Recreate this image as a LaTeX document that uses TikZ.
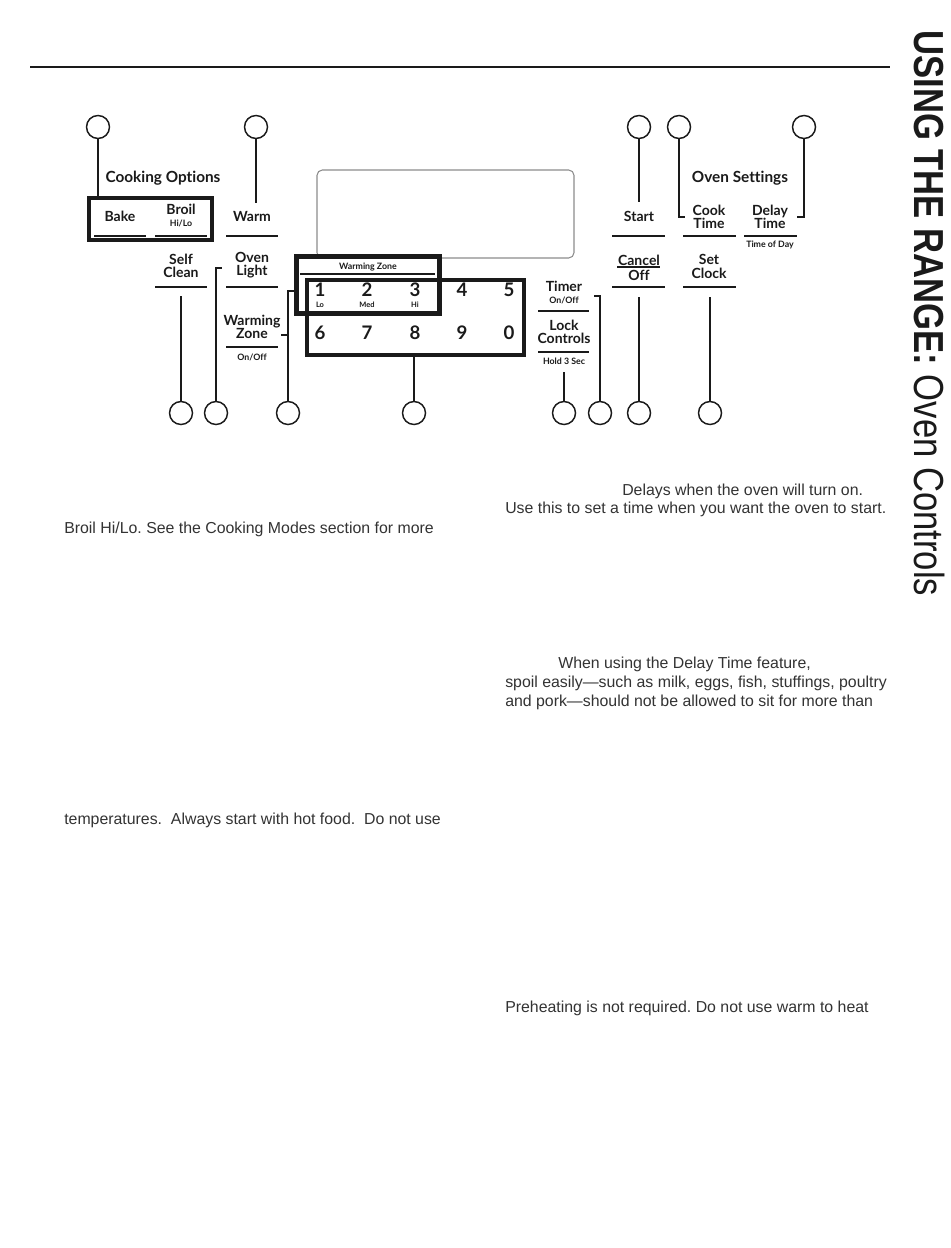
\documentclass[tikz,border=0pt]{standalone}
\usepackage{fontspec}
\setmainfont{Liberation Sans}
\newfontfamily\panelfont[Ligatures=NoCommon]{Lato}
\usepackage{graphicx}
\definecolor{ink}{HTML}{1A1A1A}
\definecolor{bodygray}{HTML}{333333}
\definecolor{dispgray}{HTML}{8C8C8C}
\begin{document}
\frenchspacing
\begin{tikzpicture}[x=0.75pt,y=-0.75pt,
  ring/.style={circle,draw=ink,line width=1.1pt,minimum size=17.25pt,inner sep=0pt},
  lead/.style={draw=ink,line width=1.5pt},
  uline/.style={draw=ink,line width=1pt},
  frame/.style={draw=ink,line width=2.3pt,inner sep=0pt},
  btn/.style={font=\panelfont\bfseries\fontsize{10.5}{9.9}\selectfont,align=center,text=ink,inner sep=0pt},
  hdr/.style={font=\panelfont\bfseries\fontsize{11.5}{12}\selectfont,text=ink,inner sep=0pt},
  tiny/.style={font=\panelfont\bfseries\fontsize{6.6}{7}\selectfont,text=ink,inner sep=0pt},
  num/.style={font=\panelfont\bfseries\fontsize{14}{14}\selectfont,text=ink,inner sep=0pt},
  numsub/.style={font=\panelfont\bfseries\fontsize{5.6}{6}\selectfont,text=ink,inner sep=0pt},
  body/.style={font=\fontsize{11.9}{14}\selectfont,text=bodygray,anchor=base west,inner sep=0pt}]
\useasboundingbox (0,0) rectangle (950,1248);
\fill[white] (0,0) rectangle (950,1248);

% top rule
\draw[ink,line width=2.2pt] (30,67) -- (890,67);

% vertical title
\node[rotate=-90,anchor=west,inner sep=0pt,text=ink] (title) at (929,30)
  {\scalebox{0.825}[1]{\fontsize{31.5}{32}\selectfont\textbf{USING THE RANGE:} Oven Controls}};

% display window
\node[draw=dispgray,line width=0.8pt,rounded corners=4pt,minimum width=192.75pt,minimum height=66pt,inner sep=0pt] (disp) at (445.5,214) {};

% left group
\node[hdr] (cookopt) at (163,178) {Cooking Options};
\node[frame,minimum width=92.25pt,minimum height=31.5pt,fill=white] (bbox) at (150.5,219) {};
\node[btn] (bake) at (120,216) {Bake};
\node[btn] (broil) at (181,209) {Broil};
\node[tiny] (hilo) at (181,223) {Hi/Lo};
\draw[uline] (94,236) -- (146,236);
\draw[uline] (155,236) -- (207,236);

\node[btn] (warm) at (252,216) {Warm};
\draw[uline] (226,236) -- (278,236);

\node[btn] (selfclean) at (181,265.5) {Self\\Clean};
\draw[uline] (155,287) -- (207,287);
\node[btn] (ovenlight) at (252,265.5) {Oven\\Light};
\draw[uline] (226,287) -- (278,287);
\node[btn] (wzone) at (252,326.5) {Warming\\Zone};
\draw[uline] (226,347) -- (278,347);
\node[tiny] (wzonoff) at (252,357) {On/Off};

% warming zone box & keypad
\node[frame,minimum width=106.5pt,minimum height=42pt,fill=white] (wzbox) at (368,285) {};
\node[tiny] (wzlabel) at (368,267) {Warming Zone};
\draw[uline] (300,274) -- (435,274);
\node[frame,minimum width=162.75pt,minimum height=56.25pt] (pad) at (415.5,317.5) {};
\draw[frame] (wzbox.north west) rectangle (wzbox.south east);
\foreach \n/\x in {1/320,2/367,3/415,4/462,5/509} {\node[num] (k\n) at (\x,290) {\n};}
\foreach \n/\x in {6/320,7/367,8/415,9/462,0/509} {\node[num] (k\n) at (\x,333) {\n};}
\node[numsub] (lo) at (320,304.5) {Lo};
\node[numsub] (med) at (367,304.5) {Med};
\node[numsub] (hi) at (415,304.5) {Hi};

% right group
\node[btn] (timer) at (564,286) {Timer};
\node[tiny] (timeronoff) at (564,300) {On/Off};
\draw[uline] (538,311) -- (589,311);
\node[btn] (lock) at (564,331.5) {Lock\\Controls};
\draw[uline] (538,352) -- (589,352);
\node[tiny] (hold) at (564,361) {Hold 3 Sec};

\node[btn] (start) at (639,216) {Start};
\draw[uline] (612,236) -- (665,236);
\node[btn] (cancel) at (639,260) {Cancel};
\draw[uline] (617,267) -- (660,267);
\node[btn] (off) at (639,275) {Off};
\draw[uline] (612,287) -- (665,287);

\node[hdr] (ovenset) at (740,178) {Oven Settings};
\node[btn] (cook) at (709,216.5) {Cook\\Time};
\draw[uline] (683,236) -- (736,236);
\node[btn] (delay) at (770,216.5) {Delay\\Time};
\draw[uline] (744,236) -- (797,236);
\node[tiny] (tod) at (770,245) {Time of Day};
\node[btn] (setclock) at (709,266.5) {Set\\Clock};
\draw[uline] (683,287) -- (736,287);

% circles
\node[ring] (t1) at (98,127) {};
\node[ring] (t2) at (256,127) {};
\node[ring] (t3) at (639,127) {};
\node[ring] (t4) at (679,127) {};
\node[ring] (t5) at (804,127) {};
\node[ring] (b1) at (181,413) {};
\node[ring] (b2) at (216,413) {};
\node[ring] (b3) at (288,413) {};
\node[ring] (b4) at (414,413) {};
\node[ring] (b5) at (564,413) {};
\node[ring] (b6) at (600,413) {};
\node[ring] (b7) at (639,413) {};
\node[ring] (b8) at (710,413) {};

% connector ends
\coordinate (e2) at (256,203);
\coordinate (e3) at (639,202);
\coordinate (e4) at (685,217);
\coordinate (e5) at (797,217);
\coordinate (f1) at (181,296);
\coordinate (f2) at (222,268);
\coordinate (f3) at (288,291);
\coordinate (f3t) at (281,335);
\coordinate (f5) at (564,372);
\coordinate (f6) at (594,296);
\coordinate (f7) at (639,297);
\coordinate (f8) at (710,297);

% connectors
\draw[lead] (t1) -- (t1 |- bbox.north);
\draw[lead] (t2) -- (e2);
\draw[lead] (t3) -- (e3);
\draw[lead] (t4) |- (e4);
\draw[lead] (t5) |- (e5);
\draw[lead] (b1) -- (f1);
\draw[lead] (b2) |- (f2);
\draw[lead] (b3) -- (f3) -- (f3 -| wzbox.west);
\draw[lead] (f3t) -- (f3t -| b3);
\draw[lead] (b4) -- (b4 |- pad.south);
\draw[lead] (b5) -- (f5);
\draw[lead] (b6) |- (f6);
\draw[lead] (b7) -- (f7);
\draw[lead] (b8) -- (f8);

% body text
\node[body] (p1) at (622,495) {Delays when the oven will turn on.};
\node[body] (p2) at (505,513) {Use this to set a time when you want the oven to start.};
\node[body] (p3) at (64,533) {Broil Hi/Lo. See the Cooking Modes section for more};
\node[body] (p4) at (558,668) {When using the Delay Time feature,};
\node[body] (p5) at (505,687) {spoil easily—such as milk, eggs, fish, stuffings, poultry};
\node[body] (p6) at (505,706) {and pork—should not be allowed to sit for more than};
\node[body] (p7) at (64,824) {temperatures.\ \ Always start with hot food.\ \ Do not use};
\node[body] (p8) at (505,1012) {Preheating is not required. Do not use warm to heat};
\end{tikzpicture}
\end{document}
